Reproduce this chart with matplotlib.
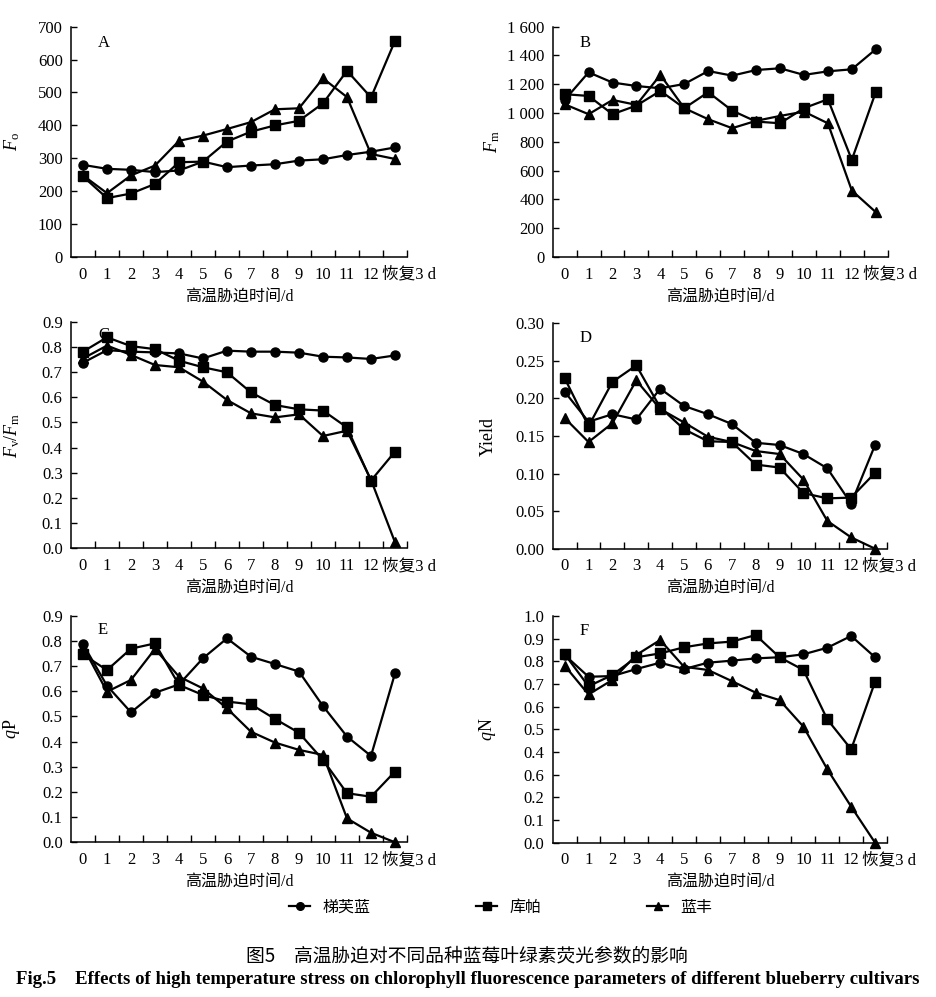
import matplotlib
matplotlib.use("Agg")
import matplotlib.pyplot as plt
import matplotlib.transforms as mtransforms
from matplotlib.lines import Line2D

plt.rcParams['font.family'] = ['Liberation Serif', 'Noto Sans CJK SC', 'DejaVu Sans']
plt.rcParams['mathtext.fontset'] = 'custom'
plt.rcParams['mathtext.rm'] = 'Liberation Serif'
plt.rcParams['mathtext.it'] = 'Liberation Serif:italic'

# ---------------- data ----------------
days = ['0', '1', '2', '3', '4', '5', '6', '7', '8', '9', '10', '11', '12', '恢复3 d']
cultivars = ['梯芙蓝', '库帕', '蓝丰']

fo_tifu = [280, 268, 265, 258, 263, 290, 273, 278, 282, 293, 297, 310, 320, 333]
fo_kupa = [245, 179, 193, 222, 288, 290, 351, 381, 400, 414, 467, 566, 485, 657]
fo_lanf = [248, 194, 248, 278, 353, 369, 389, 410, 449, 452, 543, 486, 313, 298]

fm_tifu = [1091, 1283, 1212, 1188, 1172, 1202, 1292, 1260, 1299, 1311, 1265, 1290, 1304, 1443]
fm_kupa = [1131, 1119, 992, 1052, 1154, 1034, 1145, 1017, 941, 929, 1034, 1096, 675, 1145]
fm_lanf = [1061, 992, 1091, 1057, 1265, 1034, 957, 895, 946, 980, 1010, 929, 462, 312]

fvfm_tifu = [0.737, 0.787, 0.781, 0.778, 0.774, 0.754, 0.785, 0.781, 0.781, 0.777, 0.761, 0.758, 0.752, 0.766]
fvfm_kupa = [0.781, 0.838, 0.803, 0.791, 0.745, 0.719, 0.699, 0.619, 0.569, 0.552, 0.547, 0.480, 0.269, 0.384]
fvfm_lanf = [0.754, 0.805, 0.768, 0.728, 0.719, 0.662, 0.589, 0.536, 0.520, 0.532, 0.446, 0.467, 0.272, 0.024]

yield_tifu = [0.209, 0.169, 0.179, 0.172, 0.213, 0.190, 0.179, 0.166, 0.141, 0.138, 0.126, 0.107, 0.060, 0.138]
yield_kupa = [0.227, 0.163, 0.222, 0.244, 0.188, 0.159, 0.143, 0.142, 0.112, 0.108, 0.074, 0.067, 0.068, 0.101]
yield_lanf = [0.174, 0.142, 0.167, 0.224, 0.186, 0.168, 0.149, 0.142, 0.130, 0.126, 0.092, 0.037, 0.015, 0.000]

qp_tifu = [0.787, 0.622, 0.516, 0.594, 0.627, 0.731, 0.810, 0.737, 0.708, 0.678, 0.541, 0.420, 0.343, 0.671]
qp_kupa = [0.746, 0.684, 0.769, 0.790, 0.625, 0.585, 0.559, 0.548, 0.490, 0.435, 0.327, 0.195, 0.181, 0.281]
qp_lanf = [0.777, 0.598, 0.645, 0.768, 0.658, 0.611, 0.532, 0.439, 0.396, 0.367, 0.347, 0.095, 0.038, 0.000]

qn_tifu = [0.828, 0.732, 0.735, 0.766, 0.794, 0.766, 0.794, 0.803, 0.813, 0.818, 0.831, 0.860, 0.912, 0.818]
qn_kupa = [0.832, 0.690, 0.740, 0.818, 0.835, 0.862, 0.879, 0.887, 0.916, 0.818, 0.762, 0.544, 0.412, 0.710]
qn_lanf = [0.781, 0.654, 0.718, 0.828, 0.894, 0.776, 0.762, 0.713, 0.662, 0.629, 0.512, 0.324, 0.159, 0.000]

fo_ticks = [0, 100, 200, 300, 400, 500, 600, 700]
fo_ticklabels = ['0', '100', '200', '300', '400', '500', '600', '700']
fm_ticks = [0, 200, 400, 600, 800, 1000, 1200, 1400, 1600]
fm_ticklabels = ['0', '200', '400', '600', '800', '1 000', '1 200', '1 400', '1 600']
fvfm_ticks = [0.0, 0.1, 0.2, 0.3, 0.4, 0.5, 0.6, 0.7, 0.8, 0.9]
fvfm_ticklabels = ['0.0', '0.1', '0.2', '0.3', '0.4', '0.5', '0.6', '0.7', '0.8', '0.9']
yield_ticks = [0.00, 0.05, 0.10, 0.15, 0.20, 0.25, 0.30]
yield_ticklabels = ['0.00', '0.05', '0.10', '0.15', '0.20', '0.25', '0.30']
qp_ticks = [0.0, 0.1, 0.2, 0.3, 0.4, 0.5, 0.6, 0.7, 0.8, 0.9]
qp_ticklabels = ['0.0', '0.1', '0.2', '0.3', '0.4', '0.5', '0.6', '0.7', '0.8', '0.9']
qn_ticks = [0.0, 0.1, 0.2, 0.3, 0.4, 0.5, 0.6, 0.7, 0.8, 0.9, 1.0]
qn_ticklabels = ['0.0', '0.1', '0.2', '0.6', '0.4', '0.5', '0.6', '0.7', '0.8', '0.9', '1.0']

xlabel = '高温胁迫时间/d'

# ---------------- figure ----------------
W, H = 937, 997
fig = plt.figure(figsize=(W / 100, H / 100), dpi=100)

markers = ['o', 's', '^']
msizes = [6.5, 7.0, 6.5]


def axes_px(left, right, top, bottom):
    return [left / W, 1 - bottom / H, (right - left) / W, (bottom - top) / H]


panels = [
    dict(rect=axes_px(71, 407, 26.7, 257), data=[fo_tifu, fo_kupa, fo_lanf],
         ticks=fo_ticks, tl=fo_ticklabels, ylabel=r'$F_{\mathrm{o}}$', letter='A',
         lx=-0.145, let=(0.08, 0.965)),
    dict(rect=axes_px(552.7, 887.7, 26.7, 257), data=[fm_tifu, fm_kupa, fm_lanf],
         ticks=fm_ticks, tl=fm_ticklabels, ylabel=r'$F_{\mathrm{m}}$', letter='B',
         lx=-0.152, let=(0.08, 0.965)),
    dict(rect=axes_px(71, 407, 321.7, 548.3), data=[fvfm_tifu, fvfm_kupa, fvfm_lanf],
         ticks=fvfm_ticks, tl=fvfm_ticklabels, ylabel=r'$F_{\mathrm{v}}/F_{\mathrm{m}}$', letter='C',
         lx=-0.145, let=(0.08, 0.975)),
    dict(rect=axes_px(552.7, 887, 323.3, 548.7), data=[yield_tifu, yield_kupa, yield_lanf],
         ticks=yield_ticks, tl=yield_ticklabels, ylabel='Yield', letter='D',
         lx=-0.166, let=(0.08, 0.97)),
    dict(rect=axes_px(71, 407, 615.7, 842.3), data=[qp_tifu, qp_kupa, qp_lanf],
         ticks=qp_ticks, tl=qp_ticklabels, ylabel=r'$q$P', letter='E',
         lx=-0.145, let=(0.08, 0.97)),
    dict(rect=axes_px(552.7, 887, 616, 842.7), data=[qn_tifu, qn_kupa, qn_lanf],
         ticks=qn_ticks, tl=qn_ticklabels, ylabel=r'$q$N', letter='F',
         lx=-0.163, let=(0.08, 0.97)),
]

x = list(range(len(days)))
for p in panels:
    ax = fig.add_axes(p['rect'])
    for series, m, ms in zip(p['data'], markers, msizes):
        ax.plot(x, series, color='black', lw=1.6, marker=m, markersize=ms,
                markerfacecolor='black', markeredgecolor='black', clip_on=False, zorder=3)
    ax.set_xlim(-0.5, len(days) - 0.5)
    ax.set_ylim(p['ticks'][0], p['ticks'][-1])
    ax.spines['top'].set_visible(False)
    ax.spines['right'].set_visible(False)
    for s in ('left', 'bottom'):
        ax.spines[s].set_linewidth(1.1)
    # boundary ticks (major, no labels) and category labels (minor, no tick marks)
    ax.set_xticks([i + 0.5 for i in x])
    ax.set_xticklabels([])
    ax.set_xticks(x, minor=True)
    ax.set_xticklabels(days, minor=True, fontsize=12)
    ax.tick_params(axis='x', which='major', direction='in', length=5, width=1.0)
    ax.tick_params(axis='x', which='minor', length=0, pad=7)
    lbl = ax.xaxis.get_minorticklabels()[-1]
    lbl.set_transform(lbl.get_transform() + mtransforms.ScaledTranslation(14 / 100, 0, fig.dpi_scale_trans))
    ax.set_yticks(p['ticks'])
    ax.set_yticklabels(p['tl'], fontsize=12)
    ax.tick_params(axis='y', direction='in', length=4, width=1.0, pad=6)
    ax.set_xlabel(xlabel, fontsize=11.5, labelpad=4)
    ax.set_ylabel(p['ylabel'], fontsize=13)
    ax.yaxis.set_label_coords(p['lx'], 0.5)
    ax.text(p['let'][0], p['let'][1], p['letter'], transform=ax.transAxes,
            fontsize=12, ha='left', va='top')

# legend
handles = [Line2D([0], [0], color='black', lw=1.6, marker=m, markersize=5.5) for m in markers]
fig.legend(handles, cultivars, loc='center', bbox_to_anchor=(501 / W, 1 - 908 / H), ncol=3,
           frameon=False, fontsize=11.5, handlelength=1.3, columnspacing=6.6, handletextpad=0.8)

fig.text(467 / W, 1 - 956 / H, '图5\u2003高温胁迫对不同品种蓝莓叶绿素荧光参数的影响',
         ha='center', va='center', fontsize=13.5, family=['Noto Sans CJK SC', 'DejaVu Sans'])
fig.text(468 / W, 1 - 979 / H,
         'Fig.5    Effects of high temperature stress on chlorophyll fluorescence parameters of different blueberry cultivars',
         ha='center', va='center', fontsize=13.5, fontweight='bold', family='Liberation Serif')

fig.savefig('out.png', dpi=100)
